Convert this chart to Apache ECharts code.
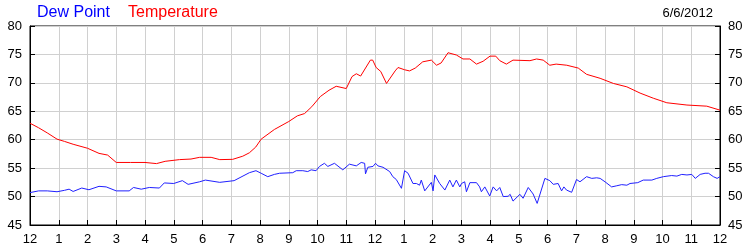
<!DOCTYPE html>
<html>
<head>
<meta charset="utf-8">
<script src="https://cdn.jsdelivr.net/npm/echarts@6/dist/echarts.min.js"></script>
<style>
html,body{margin:0;padding:0;background:#fff;}
#c{width:750px;height:250px;}
</style>
</head>
<body>
<div id="c"></div>
<script>
// ---- data ----
const hourLabels = ['12','1','2','3','4','5','6','7','8','9','10','11','12','1','2','3','4','5','6','7','8','9','10','11','12'];
const yTicks = [45, 50, 55, 60, 65, 70, 75, 80];
const dateLabel = '6/6/2012';
const seriesNames = ['Dew Point', 'Temperature'];

const tempHours = [0.0,0.3,0.6,0.94,1.2,1.5,2.0,2.4,2.7,3.0,3.5,4.0,4.4,4.7,5.2,5.6,5.9,6.3,6.6,7.05,7.4,7.63,7.85,8.04,8.5,9.0,9.3,9.55,9.8,10.1,10.4,10.65,11.0,11.2,11.35,11.5,11.84,11.92,12.04,12.2,12.4,12.7,12.8,13.03,13.2,13.4,13.66,13.96,14.14,14.3,14.54,14.83,15.06,15.3,15.53,15.76,16.0,16.2,16.34,16.57,16.8,17.39,17.62,17.85,18.08,18.3,18.67,19.07,19.36,19.83,20.29,20.76,21.22,21.68,22.15,22.85,23.54,24.0];
const tempValues = [62.9,62.1,61.2,60.1,59.7,59.2,58.5,57.6,57.3,56.0,56.0,56.0,55.8,56.2,56.5,56.6,56.9,56.9,56.5,56.55,57.1,57.7,58.7,60.1,61.8,63.2,64.2,64.6,65.8,67.6,68.7,69.4,69.0,71.1,71.6,71.2,74.0,74.0,72.7,72.0,69.9,72.1,72.7,72.3,72.1,72.6,73.7,74.0,73.1,73.5,75.3,74.9,74.2,74.2,73.3,73.8,74.7,74.7,73.9,73.3,74.0,73.9,74.2,74.0,73.1,73.3,73.1,72.6,71.5,70.8,69.9,69.3,68.2,67.3,66.5,66.1,65.9,65.2];

const dewHours = [0.0,0.3,0.6,0.94,1.2,1.36,1.5,1.8,2.05,2.4,2.65,3.0,3.45,3.6,3.87,4.15,4.5,4.67,5.0,5.3,5.5,5.9,6.1,6.6,7.1,7.63,7.86,8.04,8.27,8.5,8.68,9.14,9.26,9.49,9.66,9.78,9.95,10.07,10.24,10.36,10.59,10.88,11.11,11.35,11.52,11.64,11.67,11.75,11.93,12.02,12.1,12.28,12.51,12.62,12.74,12.92,13.03,13.15,13.32,13.44,13.55,13.61,13.73,13.96,14.02,14.08,14.25,14.43,14.6,14.71,14.83,14.95,15.01,15.12,15.18,15.3,15.53,15.64,15.7,15.82,15.99,16.11,16.23,16.34,16.46,16.63,16.7,16.8,17.04,17.15,17.33,17.5,17.64,17.91,18.08,18.2,18.37,18.49,18.57,18.66,18.84,19.01,19.13,19.36,19.54,19.71,19.83,20.0,20.23,20.41,20.58,20.76,20.87,21.14,21.33,21.63,21.8,22.03,22.32,22.5,22.67,22.85,23.02,23.14,23.31,23.48,23.6,23.77,23.9,24.0];
const dewValues = [50.7,51.0,51.0,50.85,51.1,51.3,50.9,51.5,51.2,51.8,51.7,51.0,51.0,51.6,51.3,51.6,51.5,52.4,52.3,52.8,52.15,52.6,52.9,52.5,52.8,54.2,54.55,54.1,53.5,53.9,54.1,54.2,54.55,54.55,54.4,54.7,54.55,55.3,55.85,55.3,55.85,54.7,55.7,55.4,56.0,55.85,54.0,55.15,55.3,55.85,55.4,55.15,54.4,53.5,53.0,51.45,54.55,54.1,52.3,52.3,52.0,52.9,51.0,52.5,51.0,53.8,52.3,51.15,52.9,51.7,52.9,51.7,52.3,52.6,50.85,52.45,52.45,51.7,50.85,51.7,50.1,51.7,51.0,51.6,50.0,50.05,50.4,49.2,50.4,49.7,51.6,50.45,48.8,53.2,52.8,52.15,52.3,51.0,51.7,51.15,50.75,53.0,52.6,53.5,53.2,53.3,53.2,52.6,51.7,51.9,52.1,52.0,52.3,52.45,52.9,52.9,53.2,53.5,53.7,53.6,53.9,53.8,53.9,53.2,53.9,54.1,54.1,53.5,53.2,53.5];

// ---- chart ----
const FONT = '"Liberation Sans", Arial, sans-serif';
const pairs = (xs, ys) => xs.map((x, i) => [x, ys[i]]);

const chart = echarts.init(document.getElementById('c'), null, {renderer: 'canvas'});

const yAxisBase = {
  type: 'value',
  min: yTicks[0],
  max: yTicks[yTicks.length - 1],
  interval: 5,
  axisLine: {show: true, lineStyle: {color: '#000', width: 1}},
  axisTick: {show: true, inside: true, length: 5, lineStyle: {color: '#000'}},
  axisLabel: {color: '#000', fontSize: 13, fontFamily: FONT, margin: 8},
};

chart.setOption({
  animation: false,
  backgroundColor: '#fff',
  title: [
    {text: seriesNames[0], left: 32, top: 0, textStyle: {color: '#0000ff', fontSize: 16, fontWeight: 'normal', fontFamily: FONT}},
    {text: seriesNames[1], left: 123, top: 0, textStyle: {color: '#ff0000', fontSize: 16, fontWeight: 'normal', fontFamily: FONT}},
    {text: dateLabel, right: 32, top: 2, textStyle: {color: '#000', fontSize: 13, fontWeight: 'normal', fontFamily: FONT}}
  ],
  grid: {left: 30, right: 30, top: 26, bottom: 25, show: true, borderColor: '#000', borderWidth: 1, containLabel: false},
  xAxis: {
    type: 'value',
    min: 0,
    max: 24,
    interval: 1,
    axisLine: {show: true, lineStyle: {color: '#000', width: 1}},
    axisTick: {show: true, inside: true, length: 5, lineStyle: {color: '#000'}},
    axisLabel: {color: '#000', fontSize: 13, fontFamily: FONT, margin: 8, formatter: v => hourLabels[v]},
    splitLine: {show: true, lineStyle: {color: '#d0d0d0', width: 1}}
  },
  yAxis: [
    Object.assign({}, yAxisBase, {position: 'left', splitLine: {show: true, lineStyle: {color: '#d0d0d0', width: 1}}}),
    Object.assign({}, yAxisBase, {position: 'right', splitLine: {show: false}})
  ],
  series: [
    {name: seriesNames[0], type: 'line', data: pairs(dewHours, dewValues), showSymbol: false, symbol: 'none',
     lineStyle: {color: '#2020ff', width: 1}, itemStyle: {color: '#2020ff'}, z: 3},
    {name: seriesNames[1], type: 'line', data: pairs(tempHours, tempValues), showSymbol: false, symbol: 'none',
     lineStyle: {color: '#ff0000', width: 1}, itemStyle: {color: '#ff0000'}, z: 3}
  ]
});
</script>
</body>
</html>
